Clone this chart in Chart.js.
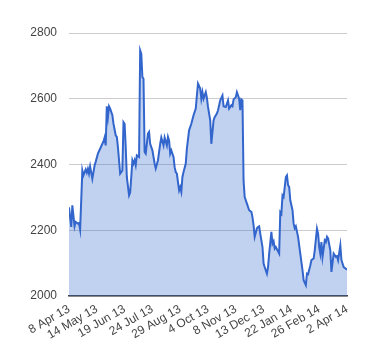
<!DOCTYPE html>
<html>
<head>
<meta charset="utf-8">
<script src="https://cdn.jsdelivr.net/npm/chart.js@4"></script>
<style>
html,body{margin:0;padding:0;background:#fff;}
#c{display:block;}
</style>
</head>
<body>
<canvas id="c" width="380" height="360"></canvas>
<script>
// Trading-day index (0 = 8 Apr 13, 250 = 2 Apr 14)
const dayIndex = [0,2,3,5,6,8,9,10,12,13,15,16,17,18,19,21,23,24,26,28,30,31,32,33,34,35,36,37,39,40,42,43,44,45,46,48,49,50,51,52,54,55,56,57,58,59,60,61,63,64,65,66,67,68,69,71,72,73,75,77,78,80,82,83,85,86,88,89,90,91,92,94,95,96,97,99,100,101,102,103,105,106,108,110,112,114,115,116,118,119,120,121,123,124,125,127,128,130,131,133,134,136,138,139,141,143,144,146,147,148,150,151,153,154,155,156,157,158,160,162,164,165,166,167,169,170,171,172,174,175,176,178,179,180,182,183,184,185,186,189,190,191,192,193,195,196,197,198,199,201,202,203,204,206,208,210,211,213,214,215,217,218,220,221,223,224,225,226,227,228,230,231,232,233,235,236,238,240,241,242,244,245,247,249,250];
// Closing values
const prices = [2270,2210,2276,2212,2225,2220,2222,2202,2382,2367,2385,2375,2387,2372,2394,2357,2397,2408,2433,2448,2463,2470,2482,2458,2577,2544,2577,2570,2550,2524,2489,2484,2453,2413,2372,2382,2529,2524,2453,2362,2306,2315,2362,2413,2403,2413,2398,2428,2423,2747,2737,2666,2661,2438,2433,2494,2499,2463,2443,2403,2388,2413,2463,2482,2458,2482,2458,2484,2473,2433,2443,2423,2392,2377,2372,2321,2331,2317,2362,2377,2403,2448,2504,2524,2550,2570,2610,2646,2631,2600,2620,2600,2620,2603,2575,2534,2463,2534,2544,2555,2565,2595,2610,2577,2575,2595,2570,2580,2577,2598,2605,2620,2600,2565,2598,2595,2350,2301,2281,2261,2256,2240,2215,2180,2206,2210,2212,2190,2149,2099,2088,2068,2088,2129,2195,2159,2166,2144,2149,2129,2255,2250,2306,2301,2362,2367,2337,2332,2291,2261,2220,2206,2212,2180,2129,2078,2048,2033,2068,2066,2093,2109,2114,2139,2205,2190,2149,2129,2164,2119,2169,2164,2180,2175,2139,2073,2129,2119,2121,2109,2154,2109,2088,2083,2080];
// Axis tick labels (every 25 trading days)
const tickLabels = ['8 Apr 13','14 May 13','19 Jun 13','24 Jul 13','29 Aug 13','4 Oct 13','8 Nov 13','13 Dec 13','22 Jan 14','26 Feb 14','2 Apr 14'];
const yTicks = [2000,2200,2400,2600,2800];

const points = dayIndex.map((d, k) => ({x: d, y: prices[k]}));

new Chart(document.getElementById('c'), {
  type: 'line',
  data: {
    datasets: [{
      data: points,
      borderColor: '#3366cc',
      borderWidth: 2,
      backgroundColor: 'rgba(51,102,204,0.3)',
      fill: 'start',
      pointRadius: 0,
      tension: 0
    }]
  },
  options: {
    responsive: false,
    animation: false,
    devicePixelRatio: 1,
    layout: {padding: {top: 33, right: 33, left: 0, bottom: 0}},
    plugins: {legend: {display: false}, tooltip: {enabled: false}},
    scales: {
      x: {
        type: 'linear',
        min: 0,
        max: (tickLabels.length - 1) * 25,
        grid: {display: false, drawTicks: false},
        border: {display: true, color: '#444', width: 1.5},
        afterBuildTicks: (s) => { s.ticks = tickLabels.map((_, i) => ({value: i * 25})); },
        afterFit: (s) => { s.height = 64; },
        ticks: {
          autoSkip: false,
          maxRotation: 30,
          minRotation: 30,
          padding: 6,
          color: '#444',
          font: {family: 'Arial, "Liberation Sans"', size: 12},
          callback: (v) => tickLabels[Math.round(v / 25)]
        }
      },
      y: {
        min: yTicks[0],
        max: yTicks[yTicks.length - 1],
        afterBuildTicks: (s) => { s.ticks = yTicks.map(v => ({value: v})); },
        afterFit: (s) => { s.width = 69; },
        grid: {color: '#cccccc', drawTicks: false, lineWidth: 1},
        border: {display: false},
        ticks: {
          padding: 12,
          color: '#444',
          font: {family: 'Arial, "Liberation Sans"', size: 12},
          callback: (v) => String(v)
        }
      }
    }
  }
});
</script>
</body>
</html>
